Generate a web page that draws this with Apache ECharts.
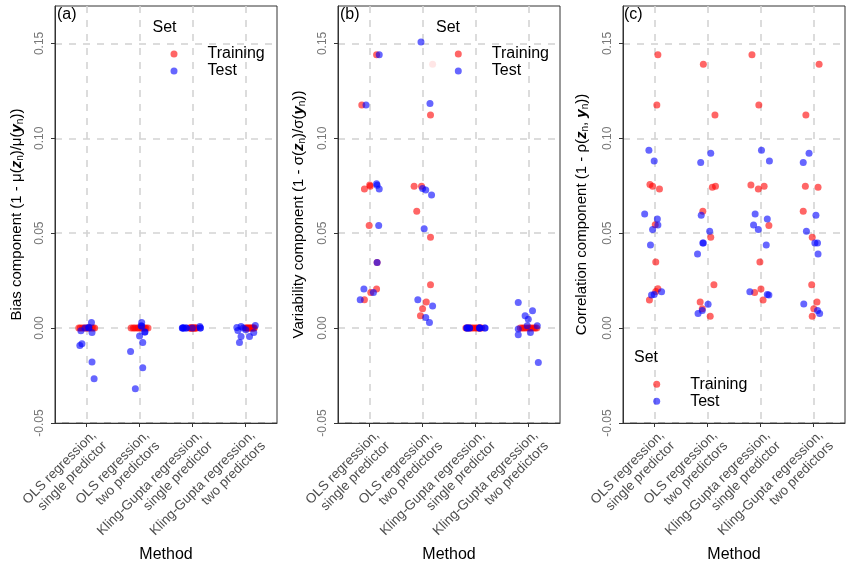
<!DOCTYPE html>
<html><head><meta charset="utf-8">
<script src="https://cdn.jsdelivr.net/npm/echarts@6/dist/echarts.min.js"></script>
<style>html,body{margin:0;padding:0;background:#fff}#c{width:852px;height:567px}</style>
</head><body><div id="c"></div>
<script>
// ---------- categories & ticks ----------
const methods = [
  'OLS regression,\nsingle predictor',
  'OLS regression,\ntwo predictors',
  'Kling-Gupta regression,\nsingle predictor',
  'Kling-Gupta regression,\ntwo predictors'
];
const methodTicks = [1, 2, 3, 4];
const yTicks = [-0.05, 0, 0.05, 0.10, 0.15];
const panelLabels = ['(a)', '(b)', '(c)'];
const setNames = ['Training', 'Test'];

// ---------- (a) Bias component ----------
const biasTrainingValues = [
  [0,0,0,0,0,0,0,0,0,0],
  [0,0,0,0,0,0,0,0,0,0],
  [0,0,0,0,0,0,0,0,0,0],
  [0,0,0,0,0,0,0,0,0,0]
];
const biasTrainingJitter = [
  [-0.15,-0.12,-0.08,-0.05,-0.01,0.02,0.05,0.09,0.12,0.15],
  [-0.16,-0.12,-0.09,-0.05,-0.02,0.02,0.05,0.09,0.12,0.16],
  [-0.06,-0.04,-0.03,-0.01,0,0.02,0.03,0.05,0.06,0.08],
  [0,0.02,0.04,0.06,0.08,0.10,0.12,0.14,0.16,0.17]
];
const biasTestValues = [
  [-0.0014,-0.0092,-0.0083,0.003,0.0005,-0.0023,-0.0178,-0.0267,0,0],
  [0.003,0.0012,-0.0041,-0.002,-0.0076,-0.0123,-0.0209,-0.0319,0.001,-0.002],
  [0,0,0,0,0,0,0.0008,0,0,0],
  [0.0003,-0.0013,0.0008,-0.0044,-0.0076,-0.0044,-0.0023,0.0014,-0.0009,0]
];
const biasTestJitter = [
  [-0.11,-0.13,-0.09,0.09,0.04,0.10,0.10,0.14,-0.03,0.04],
  [0.04,0.03,0.0,0.10,0.06,-0.17,0.06,-0.08,0.04,0.10],
  [-0.19,-0.17,-0.12,-0.19,-0.17,-0.12,0.14,0.15,0.0,0.15],
  [-0.16,-0.14,-0.08,-0.08,-0.11,0.08,0.16,0.19,0.01,-0.04]
];

// ---------- (b) Variability component ----------
const variabilityTrainingValues = [
  [0.144,0.1176,0.0733,0.0754,0.0747,0.054,0.0346,0.0206,0.0188,0.0149],
  [0.1123,0.0747,0.0747,0.0615,0.0478,0.0228,0.0137,0.0102,0.0065],
  [0,0,0,0,0,0,0,0,0,0],
  [0,0,0,0,0,0,0,0,0,0]
];
const variabilityTrainingJitter = [
  [0.13,-0.15,-0.10,0.0,0.01,-0.01,0.14,0.13,0.02,-0.10],
  [0.15,-0.16,-0.02,-0.11,0.15,0.15,0.07,0.0,-0.04],
  [-0.18,-0.14,-0.11,-0.07,-0.04,0,0.03,0.06,0.09,0.12],
  [-0.15,-0.11,-0.08,-0.04,0,0.03,0.06,0.10,0.13,0.16]
];
// one very faint training point (method 2)
const variabilityFaintValues = [0.139];
const variabilityFaintMethod = [2];
const variabilityFaintJitter = [0.19];
const variabilityTestValues = [
  [0.144,0.1176,0.076,0.0733,0.0752,0.054,0.0346,0.0206,0.0188,0.0149],
  [0.1507,0.1183,0.0736,0.0728,0.0701,0.0524,0.0149,0.0116,0.0056,0.003],
  [0,0,0,0,0,0,0,0,0,0],
  [0.0135,0.0091,0.0065,0.0047,0.0012,0.0012,-0.0005,-0.0035,-0.0023,-0.0181]
];
const variabilityTestJitter = [
  [0.18,-0.07,0.13,0.18,0.14,0.17,0.14,-0.11,0.07,-0.18],
  [-0.03,0.14,0.0,0.06,0.17,0.03,-0.09,0.19,0.06,0.13],
  [-0.16,-0.16,-0.11,-0.11,0.08,0.08,0.18,0.18,-0.16,0.08],
  [-0.19,0.08,-0.06,0.0,-0.02,0.17,-0.19,-0.19,0.04,0.19]
];

// ---------- (c) Correlation component ----------
const correlationTrainingValues = [
  [0.144,0.1176,0.0756,0.0747,0.0733,0.0545,0.0348,0.0207,0.0193,0.0148],
  [0.139,0.1123,0.0742,0.0747,0.0615,0.0478,0.0228,0.0137,0.0102,0.0063],
  [0.144,0.1176,0.0754,0.0733,0.0747,0.0541,0.0348,0.0188,0.0206,0.0148],
  [0.139,0.1123,0.0747,0.0742,0.0615,0.0478,0.0228,0.0137,0.0102,0.0063]
];
const correlationTrainingJitter = [
  [0.06,0.04,-0.09,-0.04,0.09,0.01,0.02,0.06,0.02,-0.10],
  [-0.08,0.14,0.09,0.15,-0.09,0.06,0.12,-0.14,-0.10,0.05],
  [-0.16,-0.03,-0.18,-0.04,0.07,0.16,-0.01,-0.11,0.01,0.05],
  [0.11,-0.14,-0.15,0.09,-0.19,-0.02,-0.03,0.07,0.01,-0.02]
];
const correlationTestValues = [
  [0.0937,0.0881,0.0601,0.0575,0.0543,0.052,0.0438,0.0191,0.0177,0.0174],
  [0.0921,0.0872,0.0594,0.051,0.0448,0.0448,0.039,0.0125,0.0093,0.0077],
  [0.0937,0.0881,0.0601,0.0575,0.0543,0.052,0.0438,0.0191,0.0177,0.0174],
  [0.0921,0.0872,0.0594,0.051,0.0448,0.0448,0.039,0.0127,0.0093,0.0077]
];
const correlationTestJitter = [
  [-0.11,-0.01,-0.19,0.05,0.06,-0.04,-0.08,0.13,-0.01,-0.06],
  [0.06,-0.13,-0.12,0.04,-0.09,-0.08,-0.19,0.01,-0.10,-0.18],
  [0.02,0.17,-0.10,0.13,-0.13,-0.04,0.11,-0.20,0.13,0.16],
  [-0.08,-0.19,0.05,-0.13,0.03,0.08,0.09,-0.18,0.08,0.12]
];

// ---------- build ----------
function points(values, jitter) {
  const out = [];
  values.forEach((arr, i) => arr.forEach((v, k) => out.push([methodTicks[i] + jitter[i][k], v])));
  return out;
}
const FONT = "'Liberation Sans', Arial, sans-serif";
const RED = 'rgba(255,0,0,0.75)';
const BLUE = 'rgba(0,0,255,0.75)';
const gridLefts = [55, 338, 623];
const yNameGaps = [30, 31, 33];
const yTitles = [
  'Bias component (1 - μ({b|z}{s|n})/μ({b|y}{s|n}))',
  'Variability component (1 - σ({b|z}{s|n})/σ({b|y}{s|n}))',
  'Correlation component (1 - ρ({b|z}{s|n}, {b|y}{s|n}))'
];
const panels = [
  [points(biasTrainingValues, biasTrainingJitter), points(biasTestValues, biasTestJitter)],
  [points(variabilityTrainingValues, variabilityTrainingJitter), points(variabilityTestValues, variabilityTestJitter)],
  [points(correlationTrainingValues, correlationTrainingJitter), points(correlationTestValues, correlationTestJitter)]
];
const faint = variabilityFaintValues.map((v, i) => [variabilityFaintMethod[i] + variabilityFaintJitter[i], v]);

const dash = {type: [7, 7], color: '#d4d4d4', width: 1.6};
const grid = [], xAxis = [], yAxis = [], series = [];
gridLefts.forEach((left, i) => {
  grid.push({left: left, top: 6, width: 222, height: 417, show: true, borderColor: '#333', borderWidth: 1,
    backgroundColor: '#fff', containLabel: false, outerBoundsMode: 'none'});
  xAxis.push({
    gridIndex: i, type: 'value', min: 0.4, max: 4.6,
    axisLine: {show: true, onZero: false, lineStyle: {color: '#333'}},
    axisTick: {show: true, length: 4, customValues: methodTicks, lineStyle: {color: '#333'}},
    axisLabel: {customValues: methodTicks, rotate: 45, margin: 7, verticalAlign: 'top', lineHeight: 15,
      padding: [0, -3, 0, 0],
      color: '#4d4d4d', fontSize: 13.5, fontFamily: FONT,
      formatter: v => methods[Math.round(v) - 1]},
    splitLine: {show: true, lineStyle: dash},
    name: 'Method', nameLocation: 'middle', nameGap: 124, nameMoveOverlap: false,
    nameTextStyle: {fontSize: 16, color: '#000', fontFamily: FONT}
  });
  yAxis.push({
    gridIndex: i, type: 'value', min: -0.05, max: 0.1697,
    axisLine: {show: true, onZero: false, lineStyle: {color: '#333'}},
    axisTick: {show: true, length: 4, customValues: yTicks, lineStyle: {color: '#333'}},
    axisLabel: {customValues: yTicks, rotate: 90, margin: 9, color: '#777', fontSize: 12, fontFamily: FONT,
      formatter: v => v.toFixed(2)},
    splitLine: {show: true, lineStyle: dash},
    name: yTitles[i], nameLocation: 'middle', nameGap: yNameGaps[i], nameMoveOverlap: false,
    nameTextStyle: {fontSize: 15, color: '#000', fontFamily: FONT,
      rich: {b: {fontSize: 15, fontWeight: 'bold', fontStyle: 'italic', fontFamily: FONT},
             s: {fontSize: 10, fontFamily: FONT, verticalAlign: 'bottom', padding: [6, 0, 0, 0]}}}
  });
  series.push({type: 'scatter', name: setNames[0], xAxisIndex: i, yAxisIndex: i, symbolSize: 7,
    itemStyle: {color: RED}, data: panels[i][0], z: 3});
  if (i === 1) {
    series.push({type: 'scatter', name: setNames[0], xAxisIndex: i, yAxisIndex: i, symbolSize: 7,
      itemStyle: {color: 'rgba(255,0,0,0.12)'}, data: faint, z: 3});
  }
  series.push({type: 'scatter', name: setNames[1], xAxisIndex: i, yAxisIndex: i, symbolSize: 7,
    itemStyle: {color: BLUE}, data: panels[i][1], z: 4});
});

const titleStyle = {fontSize: 16, fontWeight: 'normal', color: '#000', fontFamily: FONT};
const title = [
  {text: panelLabels[0], left: 57, top: 7, padding: 0, textStyle: titleStyle},
  {text: panelLabels[1], left: 340, top: 7, padding: 0, textStyle: titleStyle},
  {text: panelLabels[2], left: 624, top: 7, padding: 0, textStyle: titleStyle},
  {text: 'Set', left: 152.5, top: 20, padding: 0, textStyle: titleStyle},
  {text: 'Set', left: 436, top: 20, padding: 0, textStyle: titleStyle},
  {text: 'Set', left: 634, top: 350, padding: 0, textStyle: titleStyle}
];
function legendAt(left, top) {
  return {data: setNames, orient: 'vertical', left: left, top: top, padding: 0,
    itemWidth: 7, itemHeight: 7, itemGap: 0, icon: 'circle', selectedMode: false,
    formatter: n => '{g|}' + n,
    textStyle: {fontSize: 16, color: '#000', lineHeight: 17, fontFamily: FONT, rich: {g: {width: 25}}}};
}
const legend = [legendAt(170.5, 45.5), legendAt(454.8, 45.5), legendAt(653.2, 375.8)];

const chart = echarts.init(document.getElementById('c'), null, {renderer: 'canvas'});
chart.setOption({
  animation: false,
  backgroundColor: '#fff',
  textStyle: {fontFamily: FONT},
  title: title, legend: legend, grid: grid, xAxis: xAxis, yAxis: yAxis, series: series
});
</script>
</body></html>
